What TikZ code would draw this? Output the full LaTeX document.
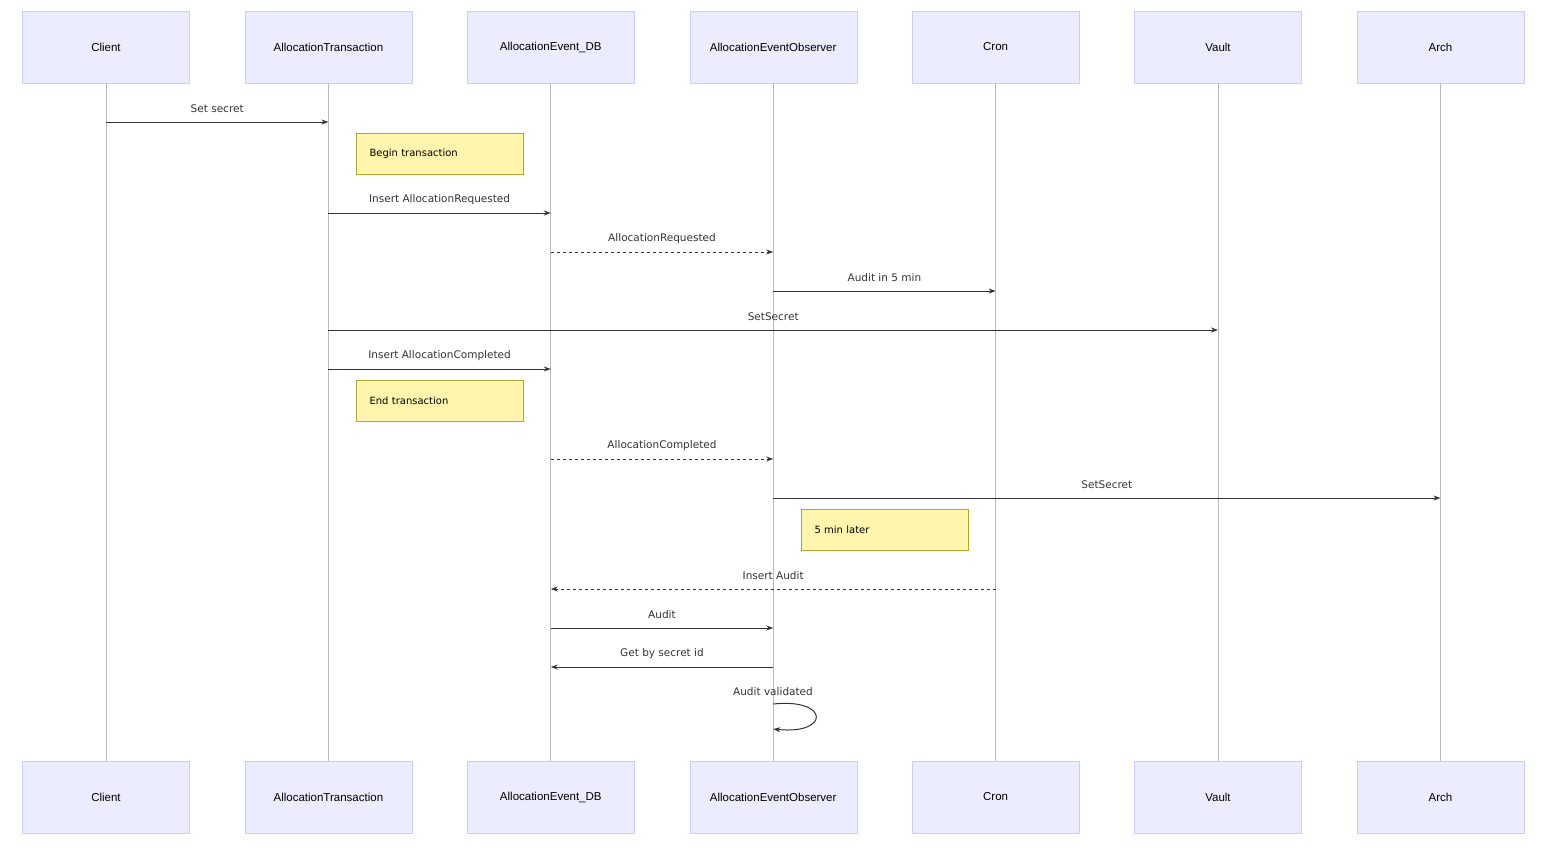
\documentclass[tikz,border=0pt]{standalone}
\usepackage{fontspec}
\setmainfont{Liberation Sans}
\newfontfamily\msgfont{DejaVu Sans}
\usetikzlibrary{arrows.meta}
\definecolor{actorfill}{HTML}{ECECFF}
\definecolor{actorline}{HTML}{CCCCFF}
\definecolor{notefill}{HTML}{FFF5AD}
\definecolor{noteline}{HTML}{AAAA33}
\definecolor{lifeline}{HTML}{BBBBBB}
\definecolor{msgline}{HTML}{333333}
\tikzset{
  actor/.style={draw=actorline,fill=actorfill,minimum width=167,minimum height=72,inner sep=0,font=\fontsize{11.5}{13}\selectfont},
  note/.style={draw=noteline,fill=notefill,minimum width=167,minimum height=41,inner sep=0,text width=140,align=left,font=\msgfont\fontsize{10}{12}\selectfont},
  life/.style={draw=lifeline,line width=0.8},
  msg/.style={draw=msgline,line width=1,-{Stealth[length=7,width=5]}},
  reply/.style={msg,dashed,dash pattern=on 3 off 3},
  lbl/.style={font=\msgfont\fontsize{10.5}{12}\selectfont,text=msgline,inner sep=0}
}
% \msg{name}{from}{to}{y}{style}{label}
\newcommand{\msg}[6]{%
  \coordinate (#1a) at (#2top |- 0,#4);
  \coordinate (#1b) at (#3top |- 0,#4);
  \draw[#5] (#1a) -- (#1b) node[lbl,midway,yshift=13] (#1t) {#6};
}
\begin{document}
\begin{tikzpicture}[x=1pt,y=-1pt]
  \useasboundingbox (0,0) rectangle (1561,862);
  \foreach \name/\txt [count=\i from 0] in {client/Client,trans/AllocationTransaction,db/AllocationEvent\_DB,obs/AllocationEventObserver,cron/Cron,vault/Vault,arch/Arch}{
    \node[actor] (\name top) at (106+222.4*\i,47) {\txt};
    \node[actor] (\name bot) at (106+222.4*\i,797) {\txt};
    \draw[life] (\name top) -- (\name bot);
  }
  \msg{m1}{client}{trans}{122}{msg}{Set secret}
  \node[note] (begin) at (439.5,153.5) {Begin transaction};
  \msg{m2}{trans}{db}{213}{msg}{Insert AllocationRequested}
  \msg{m3}{db}{obs}{252}{reply}{AllocationRequested}
  \msg{m4}{obs}{cron}{291}{msg}{Audit in 5 min}
  \msg{m5}{trans}{vault}{330}{msg}{SetSecret}
  \msg{m6}{trans}{db}{369}{msg}{Insert AllocationCompleted}
  \node[note] (end) at (439.5,400.5) {End transaction};
  \msg{m7}{db}{obs}{459}{reply}{AllocationCompleted}
  \msg{m8}{obs}{arch}{498}{msg}{SetSecret}
  \node[note] (later) at (884.5,530) {5 min later};
  \msg{m9}{cron}{db}{589}{reply}{Insert Audit}
  \msg{m10}{db}{obs}{628}{msg}{Audit}
  \msg{m11}{obs}{db}{667}{msg}{Get by secret id}
  % self message
  \coordinate (m12a) at (obstop |- 0,704);
  \coordinate (m12b) at (obstop |- 0,729);
  \draw[msg] (m12a) .. controls (830,698) and (830,735) .. (m12b);
  \node[lbl] (m12t) at (773,692) {Audit validated};
\end{tikzpicture}
\end{document}
